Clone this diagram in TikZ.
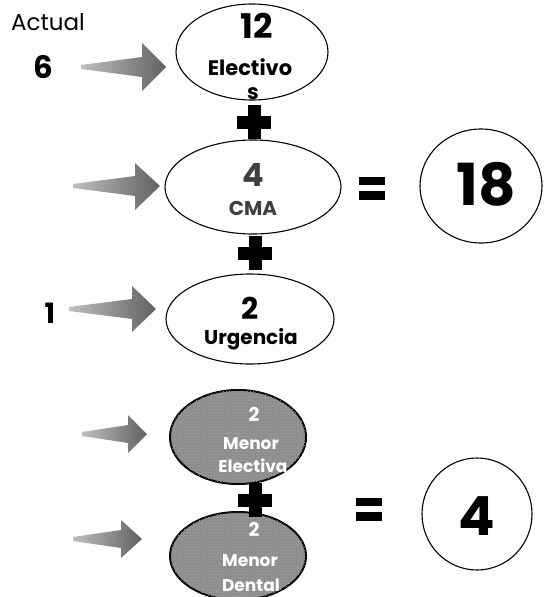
\documentclass[tikz,border=0pt]{standalone}
\usepackage{fontspec}
\setmainfont{Poppins}
\usetikzlibrary{shapes.geometric,patterns}
\tikzset{
  ellip/.style={ellipse, draw=black, line width=1.1pt, fill=white, inner sep=0pt},
  darkellip/.style={ellipse, draw=black, line width=2pt, fill=black!45, inner sep=0pt,
    postaction={pattern=crosshatch dots, pattern color=black!35}},
  circ/.style={ellipse, draw=black, line width=1.1pt, fill=white, inner sep=0pt},
  txt/.style={inner sep=0pt, anchor=center},
  wtxt/.style={inner sep=0pt, anchor=center, text=white},
  arrowfill/.style={left color=black!25, right color=black!62, draw=none},
  plussign/.pic={\fill (-17,-6.5) rectangle (17,6.5); \fill (-6.5,-17) rectangle (6.5,17);},
  eqsign/.pic={\fill (-13,-11.5) rectangle (13,-3); \fill (-13,3) rectangle (13,11.5);}
}
\newcommand{\fs}[1]{\fontsize{#1}{#1}\selectfont}
\begin{document}
\begin{tikzpicture}[x=1pt,y=-1pt]
\useasboundingbox (0,0) rectangle (544,597);
% arrows
\shade[arrowfill] (81,65) -- (142,57) -- (142,43) -- (166,67) -- (142,91) -- (142,77) -- (81,69) -- cycle;
\shade[arrowfill] (73,184) -- (135,176) -- (135,163) -- (160,186) -- (135,210) -- (135,196) -- (73,188) -- cycle;
\shade[arrowfill] (69,307) -- (132,299) -- (132,286) -- (156,309) -- (132,332) -- (132,319) -- (69,311) -- cycle;
\shade[arrowfill] (82,432) -- (128,425) -- (128,415) -- (147,434) -- (128,453) -- (128,443) -- (82,436) -- cycle;
\shade[arrowfill] (73,537) -- (121,530) -- (121,520) -- (142,539) -- (121,558) -- (121,548) -- (73,541) -- cycle;
% ellipses
\node[ellip, minimum width=152pt, minimum height=96pt] (e1) at (252,52) {};
\node[ellip, minimum width=176pt, minimum height=94pt] (e2) at (253,187) {};
\node[ellip, minimum width=168pt, minimum height=90pt] (e3) at (250,319) {};
\node[darkellip, minimum width=136pt, minimum height=94pt] (e4) at (238,437) {};
\node[darkellip, minimum width=136pt, minimum height=88pt] (e5) at (238,556) {};
\node[circ, minimum width=122pt, minimum height=114pt] (c1) at (481,186) {};
\node[circ, minimum width=110pt, minimum height=112pt] (c2) at (477,514) {};
% plus and equal signs
\pic at (254,122) {plussign};
\pic at (255,253) {plussign};
\pic at (255,500) {plussign};
\pic at (372,188) {eqsign};
\pic at (369,509) {eqsign};
% texts
\node[txt] (actual) at (48,22) {\fs{23}Actual};
\node[txt] (n6) at (43,67) {\fs{31}\bfseries 6};
\node[txt] (n1) at (50,313) {\fs{28}\bfseries 1};
\node[txt] (t12) at (257,26) {\fs{34}\bfseries 12};
\node[txt] (telec) at (250,67) {\fs{21}\bfseries Electivo};
\node[txt] (ts) at (253,94) {\fs{21}\bfseries s};
\node[txt, text=black!75] (t4) at (253,175) {\fs{32}\bfseries 4};
\node[txt, text=black!75] (tcma) at (253,208) {\fs{20}\bfseries CMA};
\node[txt] (t2) at (250,308) {\fs{30}\bfseries 2};
\node[txt] (turg) at (251,339) {\fs{20}\bfseries Urgencia};
\node[wtxt] (t2a) at (254,414) {\fs{19}\bfseries 2};
\node[wtxt] (tmen1) at (251,444) {\fs{17}\bfseries Menor};
\node[wtxt] (telv) at (253,466) {\fs{17}\bfseries Electiva};
\node[wtxt] (t2b) at (254,529) {\fs{19}\bfseries 2};
\node[wtxt] (tmen2) at (250,561) {\fs{17}\bfseries Menor};
\node[wtxt] (tden) at (251,585) {\fs{17}\bfseries Dental};
\node[txt] (t18) at (486,184) {\fs{58}\bfseries 18};
\node[txt] (tc4) at (477,516) {\fs{54}\bfseries 4};
\end{tikzpicture}
\end{document}
